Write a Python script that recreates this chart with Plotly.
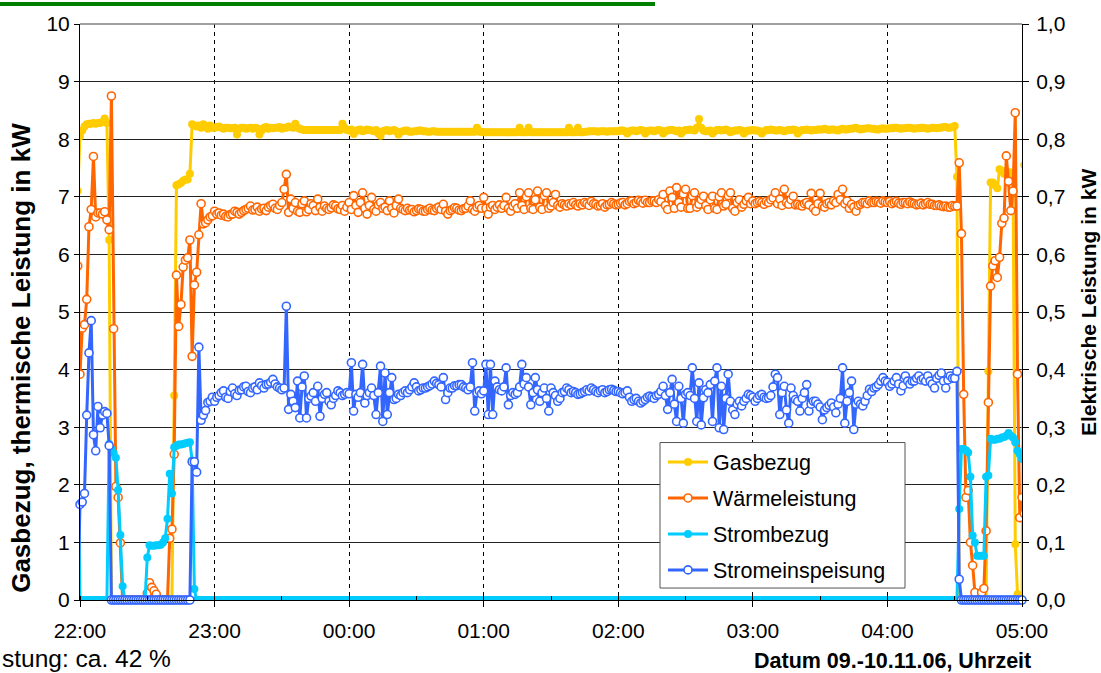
import plotly.graph_objects as go
import pandas as pd

# ---------------- data ----------------
start = pd.Timestamp("2006-11-09 22:00")
# 1-minute samples from 21:59 to 05:01
times = pd.date_range(start - pd.Timedelta(minutes=1), periods=423, freq="min")

# Gasbezug (kW, left axis)
gas_start = [7.1, 8.05, 8.15, 8.22, 8.26, 8.27, 8.27, 8.28, 8.27, 8.28,
             8.28, 8.3, 8.36, 8.28, 6.25, 0, 0, 0, 0, 0,
             0, 0, 0, 0, 0, 0, 0, 0, 0, 0,
             0, 0, 0, 0, 0, 0, 0, 0, 0, 0,
             0, 0, 0, 3.55, 7.2, 7.22, 7.24, 7.28, 7.3, 7.3,
             7.4, 8.26, 8.24, 8.22, 8.24, 8.2, 8.26, 8.22, 8.18, 8.24,
             8.2]
gas_run = [8.2, 8.21, 8.22, 8.2, 8.18, 8.2, 8.2, 8.19, 8.19, 8.2, 8.08, 8.18, 8.2, 8.2, 8.18, 8.19, 8.2, 8.18, 8.2, 8.19,
           8.08, 8.15, 8.2, 8.21, 8.18, 8.2, 8.19, 8.2, 8.2, 8.21, 8.18, 8.2, 8.2, 8.22, 8.21, 8.2, 8.27, 8.2, 8.18, 8.17,
           8.16, 8.16, 8.16, 8.16, 8.16, 8.16, 8.16, 8.16, 8.16, 8.16, 8.16, 8.16, 8.16, 8.16, 8.16, 8.16, 8.16, 8.27, 8.2, 8.16,
           8.15, 8.17, 8.09, 8.14, 8.16, 8.17, 8.14, 8.15, 8.17, 8.16, 8.15, 8.14, 8.16, 8.1, 8.06, 8.14, 8.15, 8.16, 8.14, 8.15,
           8.16, 8.14, 8.08, 8.13, 8.14, 8.15, 8.15, 8.13, 8.13, 8.14, 8.14, 8.15, 8.15, 8.14, 8.14, 8.13, 8.13, 8.14, 8.14, 8.13,
           8.13, 8.13, 8.13, 8.13, 8.13, 8.13, 8.13, 8.13, 8.13, 8.13, 8.13, 8.13, 8.13, 8.13, 8.13, 8.13, 8.13, 8.2, 8.13, 8.13,
           8.12, 8.12, 8.12, 8.12, 8.12, 8.12, 8.12, 8.12, 8.12, 8.12, 8.12, 8.12, 8.12, 8.12, 8.12, 8.12, 8.2, 8.12, 8.12, 8.12,
           8.2, 8.12, 8.12, 8.12, 8.12, 8.12, 8.12, 8.12, 8.12, 8.12, 8.12, 8.12, 8.12, 8.12, 8.12, 8.12, 8.12, 8.12, 8.2, 8.12,
           8.12, 8.12, 8.2, 8.12, 8.12, 8.13, 8.13, 8.14, 8.14, 8.14, 8.14, 8.13, 8.14, 8.14, 8.14, 8.13, 8.14, 8.14, 8.14, 8.14,
           8.14, 8.15, 8.15, 8.14, 8.1, 8.14, 8.15, 8.15, 8.14, 8.15, 8.16, 8.15, 8.1, 8.14, 8.15, 8.15, 8.14, 8.15, 8.16, 8.15,
           8.1, 8.14, 8.15, 8.16, 8.16, 8.15, 8.14, 8.15, 8.1, 8.14, 8.16, 8.16, 8.17, 8.16, 8.15, 8.2, 8.35, 8.2, 8.15, 8.14,
           8.14, 8.15, 8.1, 8.14, 8.16, 8.16, 8.15, 8.16, 8.17, 8.15, 8.12, 8.14, 8.15, 8.15, 8.16, 8.15, 8.1, 8.14, 8.15, 8.15,
           8.16, 8.15, 8.15, 8.14, 8.1, 8.14, 8.16, 8.16, 8.17, 8.16, 8.15, 8.15, 8.16, 8.15, 8.14, 8.15, 8.16, 8.16, 8.17, 8.16,
           8.1, 8.14, 8.16, 8.16, 8.17, 8.16, 8.15, 8.16, 8.16, 8.17, 8.17, 8.17, 8.18, 8.17, 8.16, 8.17, 8.17, 8.16, 8.15, 8.17,
           8.18, 8.17, 8.17, 8.18, 8.18, 8.19, 8.2, 8.18, 8.17, 8.18, 8.18, 8.19, 8.19, 8.18, 8.18, 8.17, 8.17, 8.18, 8.19, 8.18,
           8.18, 8.19, 8.19, 8.2, 8.2, 8.19, 8.18, 8.19, 8.19, 8.2, 8.2, 8.19, 8.18, 8.19, 8.19, 8.2, 8.2, 8.19, 8.18, 8.19,
           8.2, 8.2, 8.19, 8.2, 8.2, 8.21, 8.21, 8.2, 8.2, 8.21]
gas_end = [8.23, 7.35, 0, 0, 0, 0, 0, 0, 0, 0,
           0, 0, 0, 0, 0, 3.97, 7.25, 7.25, 7.2, 7.15,
           7.48, 7.45, 7.4, 7.45, 7.42, 7.42, 7.28, 0.97, 0.1, 0,
           0, 7.55]

# Wärmeleistung (kW, left axis)
heat_start = [5.8, 3.92, 4.72, 4.78, 5.22, 6.48, 6.78, 7.7, 6.65, 6.72,
              6.72, 6.7, 6.74, 6.6, 6.43, 8.75, 4.71, 1.97, 1.78, 0.99,
              0, 0, 0, 0, 0, 0, 0, 0, 0, 0,
              0, 0.12, 0.3, 0.22, 0.16, 0.1, 0, 0, 0, 0,
              0, 1.07, 1.23, 2.53, 5.64, 4.75, 5.13, 5.78, 5.9, 5.94,
              6.25, 4.23, 5.47, 5.69, 6.34, 6.88, 6.53, 6.55, 6.6, 6.65,
              6.67]
heat_run = [6.75, 6.7, 6.72, 6.68, 6.7, 6.66, 6.65, 6.69, 6.7, 6.75, 6.73, 6.7, 6.73, 6.76, 6.78, 6.8, 6.84, 6.77, 6.78, 6.82,
            6.75, 6.79, 6.8, 6.76, 6.82, 6.85, 6.87, 6.8, 6.78, 6.85, 6.9, 7.13, 7.39, 6.73, 6.96, 6.8, 6.9, 6.75, 6.73, 6.88,
            6.93, 6.74, 6.78, 6.88, 6.85, 6.76, 6.96, 6.82, 6.75, 6.84, 6.8, 6.78, 6.81, 6.86, 6.84, 6.79, 6.78, 6.85, 6.75, 6.82,
            6.9, 6.78, 7.02, 6.85, 6.73, 6.9, 7.07, 6.8, 6.7, 6.85, 6.99, 6.78, 6.75, 6.86, 6.9, 6.8, 6.82, 6.76, 6.93, 6.8,
            6.72, 6.85, 6.96, 6.8, 6.78, 6.76, 6.8, 6.77, 6.78, 6.74, 6.76, 6.79, 6.78, 6.75, 6.75, 6.78, 6.8, 6.77, 6.76, 6.8,
            6.82, 6.78, 6.87, 6.75, 6.7, 6.76, 6.78, 6.81, 6.8, 6.77, 6.76, 6.79, 6.8, 6.84, 6.93, 6.78, 6.75, 6.82, 6.85, 6.8,
            6.99, 6.8, 6.7, 6.82, 6.85, 6.78, 6.82, 6.86, 6.8, 6.85, 6.99, 6.8, 6.75, 6.84, 6.88, 6.8, 7.07, 6.85, 6.78, 7.0,
            7.07, 6.8, 6.78, 6.95, 7.1, 6.82, 6.78, 7.02, 7.07, 6.8, 6.84, 6.9, 7.04, 6.85, 6.82, 6.88, 6.86, 6.84, 6.88, 6.86,
            6.9, 6.86, 6.84, 6.88, 6.86, 6.9, 6.88, 6.85, 6.92, 6.88, 6.87, 6.84, 6.85, 6.88, 6.82, 6.86, 6.87, 6.9, 6.88, 6.86,
            6.87, 6.89, 6.9, 6.86, 6.88, 6.92, 6.93, 6.88, 6.9, 6.94, 6.92, 6.89, 6.94, 6.9, 6.9, 6.93, 6.93, 6.9, 6.95, 6.92,
            7.04, 6.85, 6.78, 7.1, 6.99, 6.8, 7.16, 6.9, 6.82, 7.05, 7.13, 6.8, 6.8, 7.02, 7.07, 6.82, 6.87, 6.95, 7.01, 6.85,
            6.78, 6.95, 7.01, 6.8, 6.78, 7.0, 7.07, 6.84, 6.87, 7.02, 7.07, 6.8, 6.75, 6.9, 6.95, 6.82, 6.87, 6.93, 6.99, 6.88,
            6.93, 6.88, 6.9, 6.92, 6.9, 6.87, 6.92, 6.9, 6.95, 6.98, 7.07, 6.88, 6.96, 6.85, 7.13, 6.9, 6.87, 6.95, 7.01, 6.86,
            6.87, 6.85, 6.84, 6.88, 6.9, 6.86, 7.06, 6.8, 6.75, 6.88, 7.06, 6.84, 6.82, 6.88, 6.9, 6.86, 6.93, 6.9, 7.04, 6.95,
            7.13, 6.88, 6.93, 6.8, 6.87, 6.82, 6.75, 6.85, 6.87, 6.9, 6.9, 6.88, 6.93, 6.9, 6.9, 6.92, 6.91, 6.89, 6.93, 6.91,
            6.9, 6.92, 6.88, 6.9, 6.92, 6.89, 6.87, 6.9, 6.9, 6.88, 6.91, 6.89, 6.88, 6.86, 6.87, 6.89, 6.86, 6.88, 6.9, 6.87,
            6.87, 6.85, 6.85, 6.86, 6.84, 6.83, 6.84, 6.82, 6.82, 6.85]
heat_end = [6.84, 6.84, 7.59, 6.36, 3.57, 1.78, 1.9, 1.0, 0.6, 0.13,
            0, 0, 0.13, 0.2, 1.2, 3.43, 5.45, 5.8, 5.89, 5.6,
            5.95, 6.54, 6.63, 7.71, 7.27, 6.76, 7.1, 8.46, 3.92, 1.43,
            1.78, 1.5]

# Strombezug (kW, right axis)
draw_start = [0.274, 0, 0, 0, 0, 0, 0, 0, 0, 0,
              0, 0, 0, 0, 0.271, 0.262, 0.255, 0.247, 0.191, 0.113,
              0.024, 0, 0, 0, 0, 0, 0, 0, 0, 0,
              0, 0.074, 0.095, 0.094, 0.094, 0.095, 0.095, 0.096, 0.1, 0.107,
              0.141, 0.219, 0.185, 0.265, 0.268, 0.27, 0.27, 0.271, 0.272, 0.273,
              0.274, 0.242, 0.019, 0, 0, 0, 0, 0, 0, 0,
              0]
draw_run = [0] * 330
draw_end = [0, 0, 0.158, 0.262, 0.262, 0.26, 0.256, 0.214, 0.112, 0.1,
            0.077, 0.077, 0.077, 0.077, 0.214, 0.216, 0.28, 0.278, 0.278, 0.28,
            0.28, 0.282, 0.283, 0.285, 0.29, 0.285, 0.282, 0.274, 0.259, 0.253,
            0.245, 0.285]

# Stromeinspeisung (kW, right axis)
feed_start = [0, 0.166, 0.17, 0.185, 0.321, 0.429, 0.485, 0.287, 0.259, 0.336,
              0.299, 0.321, 0.327, 0.324, 0.268, 0, 0, 0, 0, 0,
              0, 0, 0, 0, 0, 0, 0, 0, 0, 0,
              0, 0, 0, 0, 0, 0, 0, 0, 0, 0,
              0, 0, 0, 0, 0, 0, 0, 0, 0, 0,
              0, 0.24, 0.24, 0.222, 0.439, 0.312, 0.321, 0.329, 0.343, 0.345,
              0.352]
feed_run = [0.345, 0.352, 0.355, 0.36, 0.363, 0.352, 0.35, 0.362, 0.368, 0.358, 0.355, 0.364, 0.365, 0.37, 0.371, 0.362, 0.36, 0.368, 0.37, 0.365,
            0.377, 0.372, 0.368, 0.374, 0.375, 0.378, 0.383, 0.375, 0.37, 0.368, 0.365, 0.368, 0.51, 0.331, 0.357, 0.345, 0.334, 0.38, 0.316, 0.37,
            0.389, 0.316, 0.35, 0.354, 0.36, 0.345, 0.371, 0.319, 0.35, 0.357, 0.36, 0.345, 0.339, 0.35, 0.355, 0.363, 0.36, 0.355, 0.357, 0.36,
            0.358, 0.412, 0.328, 0.357, 0.352, 0.36, 0.409, 0.342, 0.355, 0.36, 0.368, 0.355, 0.322, 0.36, 0.406, 0.31, 0.394, 0.322, 0.36, 0.386,
            0.348, 0.35, 0.357, 0.355, 0.36, 0.363, 0.36, 0.365, 0.37, 0.377, 0.37, 0.363, 0.365, 0.368, 0.368, 0.37, 0.372, 0.375, 0.38, 0.376,
            0.374, 0.37, 0.386, 0.348, 0.36, 0.368, 0.368, 0.372, 0.372, 0.374, 0.374, 0.37, 0.368, 0.365, 0.37, 0.412, 0.328, 0.36, 0.363, 0.358,
            0.363, 0.409, 0.322, 0.409, 0.322, 0.38, 0.37, 0.365, 0.363, 0.37, 0.403, 0.339, 0.355, 0.36, 0.357, 0.36, 0.37, 0.409, 0.375, 0.386,
            0.37, 0.339, 0.36, 0.386, 0.365, 0.345, 0.36, 0.368, 0.35, 0.328, 0.368, 0.36, 0.355, 0.345, 0.35, 0.36, 0.362, 0.368, 0.365, 0.36,
            0.362, 0.36, 0.357, 0.358, 0.36, 0.362, 0.365, 0.363, 0.368, 0.365, 0.362, 0.36, 0.363, 0.365, 0.36, 0.362, 0.365, 0.366, 0.364, 0.362,
            0.362, 0.36, 0.358, 0.36, 0.363, 0.352, 0.345, 0.348, 0.35, 0.345, 0.342, 0.345, 0.348, 0.352, 0.354, 0.352, 0.35, 0.355, 0.357, 0.362,
            0.371, 0.355, 0.331, 0.36, 0.383, 0.34, 0.31, 0.371, 0.35, 0.307, 0.357, 0.36, 0.355, 0.403, 0.35, 0.31, 0.377, 0.304, 0.351, 0.365,
            0.36, 0.374, 0.31, 0.38, 0.403, 0.299, 0.371, 0.296, 0.35, 0.392, 0.345, 0.33, 0.322, 0.34, 0.345, 0.337, 0.345, 0.35, 0.357, 0.355,
            0.352, 0.345, 0.35, 0.355, 0.357, 0.352, 0.35, 0.351, 0.355, 0.37, 0.392, 0.386, 0.322, 0.36, 0.371, 0.33, 0.307, 0.368, 0.355, 0.348,
            0.345, 0.328, 0.35, 0.36, 0.374, 0.328, 0.34, 0.345, 0.345, 0.34, 0.335, 0.313, 0.33, 0.334, 0.338, 0.342, 0.335, 0.325, 0.34, 0.35,
            0.403, 0.307, 0.345, 0.36, 0.38, 0.296, 0.34, 0.345, 0.34, 0.337, 0.345, 0.355, 0.366, 0.362, 0.368, 0.37, 0.374, 0.38, 0.386, 0.38,
            0.378, 0.371, 0.375, 0.38, 0.386, 0.375, 0.363, 0.372, 0.389, 0.38, 0.375, 0.38, 0.38, 0.385, 0.389, 0.382, 0.384, 0.38, 0.389, 0.38,
            0.375, 0.368, 0.385, 0.39, 0.394, 0.38, 0.368, 0.382, 0.389, 0.385]
feed_end = [0.385, 0.397, 0.036, 0, 0, 0, 0, 0, 0, 0,
            0, 0, 0, 0, 0, 0, 0, 0, 0, 0,
            0, 0, 0, 0, 0, 0, 0, 0, 0, 0,
            0, 0]

gas = gas_start + gas_run + gas_end
heat = heat_start + heat_run + heat_end
draw = draw_start + draw_run + draw_end
feed = feed_start + feed_run + feed_end

# ---------------- figure ----------------
FONT = "Liberation Sans, Arial, sans-serif"
C_GAS, C_HEAT, C_DRAW, C_FEED = "#FFCC00", "#FF6600", "#00CCFF", "#3366FF"

fig = go.Figure()
fig.add_trace(go.Scatter(x=times, y=gas, name="Gasbezug", mode="lines+markers",
                         legendgroup="a",
                         line=dict(color=C_GAS, width=3),
                         marker=dict(color=C_GAS, size=8, symbol="circle")))
fig.add_trace(go.Scatter(x=times, y=heat, name="Wärmeleistung", mode="lines+markers",
                         legendgroup="b",
                         line=dict(color=C_HEAT, width=3),
                         marker=dict(color="white", size=8, symbol="circle",
                                     line=dict(color=C_HEAT, width=1.6))))
fig.add_trace(go.Scatter(x=times, y=draw, name="Strombezug", mode="lines+markers",
                         legendgroup="c", yaxis="y2",
                         line=dict(color=C_DRAW, width=3),
                         marker=dict(color=C_DRAW, size=8, symbol="circle")))
fig.add_trace(go.Scatter(x=times, y=feed, name="Stromeinspeisung", mode="lines+markers",
                         legendgroup="d", yaxis="y2", cliponaxis=False,
                         line=dict(color=C_FEED, width=3),
                         marker=dict(color="white", size=8, symbol="circle",
                                     line=dict(color=C_FEED, width=1.6))))

L, R, T, B = 80, 79, 22, 73
W, H = 1101, 673
pw, ph = W - L - R, H - T - B

def px(x):
    return (x - L) / pw

def py(y):
    return (H - B - y) / ph

fig.update_layout(
    width=W, height=H,
    margin=dict(l=L, r=R, t=T, b=B),
    paper_bgcolor="white", plot_bgcolor="white",
    separators=",.",
    font=dict(family=FONT, size=21, color="black"),
    showlegend=True,
    legend=dict(x=px(663), y=py(441), xanchor="left", yanchor="top",
                bgcolor="rgba(0,0,0,0)", borderwidth=0,
                font=dict(family=FONT, size=21.5, color="black"),
                tracegroupgap=5, itemwidth=40),
    xaxis=dict(type="date",
               range=[start, start + pd.Timedelta(hours=7)],
               tick0=start, dtick=3600000, tickformat="%H:%M",
               showgrid=True, gridcolor="black", gridwidth=1, griddash="4px,4px",
               showline=True, linecolor="black", linewidth=1,
               ticks="outside", ticklen=6, tickcolor="black",
               ticklabelstandoff=6,
               minor=dict(ticks="inside", ticklen=4, dtick=1800000, tickcolor="black"),
               tickfont=dict(size=21), zeroline=False),
    yaxis=dict(range=[0, 10], dtick=1, tick0=0,
               showgrid=True, gridcolor="#222222", gridwidth=1,
               showline=True, linecolor="black", linewidth=1,
               ticks="outside", ticklen=5, tickcolor="black",
               tickfont=dict(size=21), zeroline=False),
    yaxis2=dict(range=[0, 1], dtick=0.1, tick0=0, tickformat=".1f",
                overlaying="y", side="right", showgrid=False,
                showline=True, linecolor="black", linewidth=1,
                ticks="outside", ticklen=6, tickcolor="black",
                ticklabelstandoff=3,
                tickfont=dict(size=21), zeroline=False),
)

# plot-area top border
fig.add_shape(type="line", xref="paper", yref="paper", x0=0, x1=1, y0=1, y1=1,
              line=dict(color="#808080", width=1.5))
# legend box (opaque, drawn under the legend entries)
fig.add_shape(type="rect", xref="paper", yref="paper",
              x0=px(660), x1=px(905), y0=py(588), y1=py(442),
              fillcolor="white", line=dict(color="#555555", width=1), layer="above")
# green header bar
fig.add_shape(type="rect", xref="paper", yref="paper",
              x0=px(0), x1=px(655), y0=py(4), y1=py(0),
              fillcolor="#008000", line=dict(width=0), layer="above")

fig.add_annotation(text="<b>Gasbezug, thermische Leistung in kW</b>", textangle=-90,
                   xref="paper", yref="paper", x=px(21), y=py(357),
                   xanchor="center", yanchor="middle", showarrow=False,
                   font=dict(family=FONT, size=26))
fig.add_annotation(text="<b>Elektrische Leistung in kW</b>", textangle=-90,
                   xref="paper", yref="paper", x=px(1088), y=py(302),
                   xanchor="center", yanchor="middle", showarrow=False,
                   font=dict(family=FONT, size=21))
fig.add_annotation(text="<b>Datum 09.-10.11.06, Uhrzeit</b>",
                   xref="paper", yref="paper", x=px(1033), y=py(661),
                   xanchor="right", yanchor="middle", showarrow=False,
                   font=dict(family=FONT, size=21.5))
fig.add_annotation(text="stung: ca. 42 %",
                   xref="paper", yref="paper", x=px(0), y=py(659),
                   xanchor="left", yanchor="middle", showarrow=False,
                   font=dict(family=FONT, size=24.5))

fig.write_html("out.html")
